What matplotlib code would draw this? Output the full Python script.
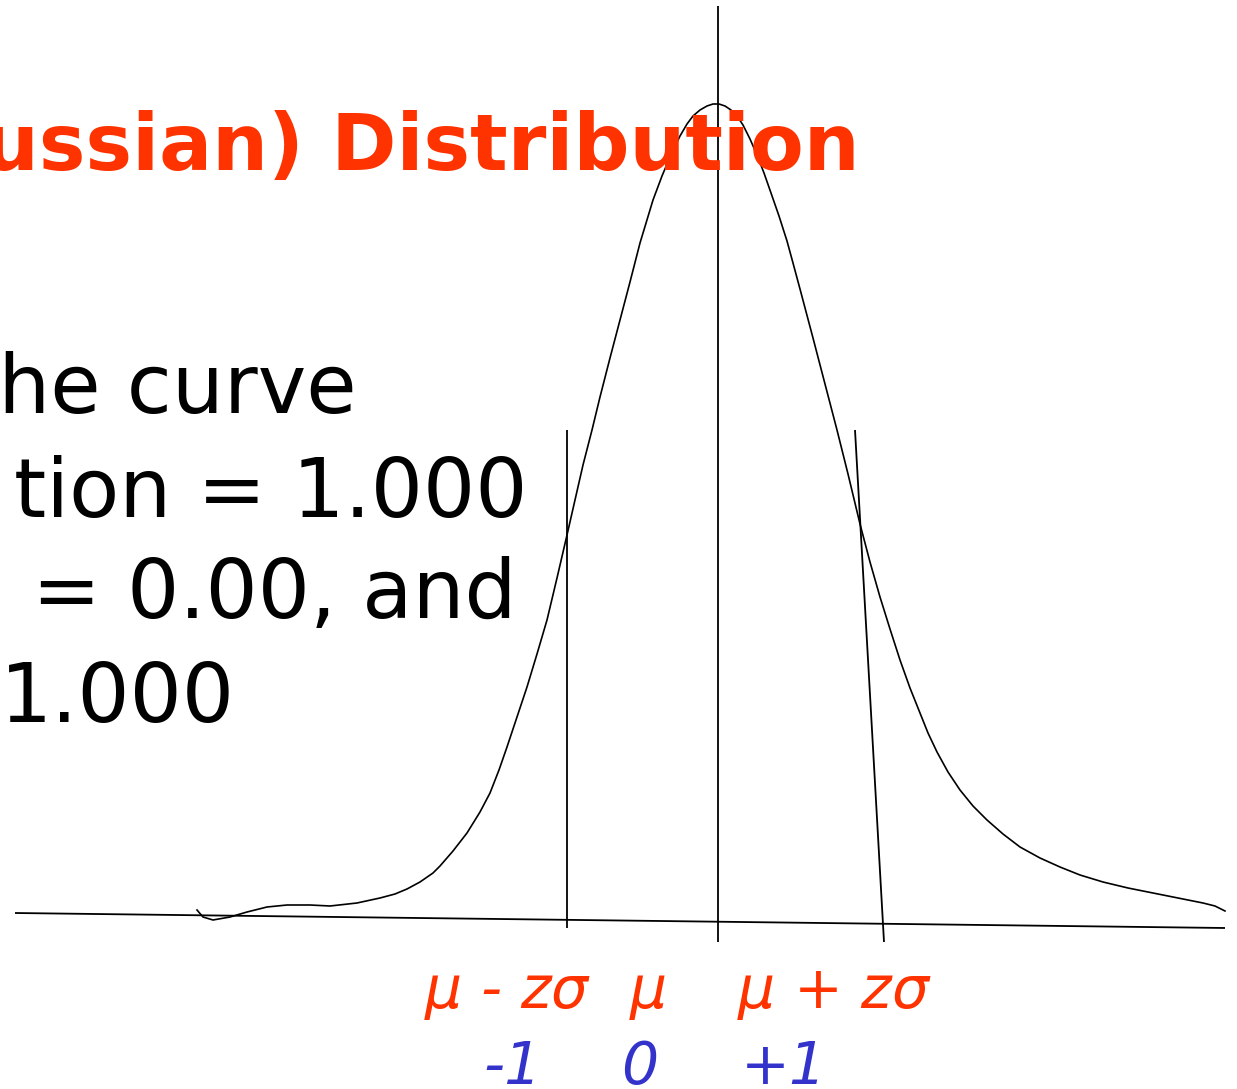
import matplotlib
matplotlib.use("Agg")
import matplotlib.pyplot as plt

# Canvas in pixel units (x to the right, y downwards)
W, H = 1237, 1089

# Hand-drawn bell curve, traced as (x, y) points
curve_x = [197, 203, 213, 230, 247, 267, 287, 310, 330, 357, 380, 395, 407, 420,
           433, 440, 453, 467, 480, 490, 499, 507, 517, 527, 537, 547, 557, 567,
           575, 583, 592, 600, 610, 620, 630, 640, 653, 662, 670, 680, 687, 693,
           700, 707, 713, 719, 725, 731, 737, 743, 750, 757, 764, 771, 779, 787,
           793, 800, 813, 825, 837, 848, 860, 870, 880, 890, 900, 910, 920, 928,
           937, 948, 960, 973, 987, 1003, 1020, 1040, 1060, 1080, 1103, 1128,
           1153, 1178, 1203, 1215, 1225]
curve_y = [910, 917, 920, 917, 912, 907, 905, 905, 906, 903, 898, 894, 889, 882,
           873, 866, 851, 833, 812, 793, 770, 747, 717, 687, 654, 620, 578, 535,
           500, 465, 430, 397, 358, 320, 282, 243, 200, 176, 157, 136, 124, 116,
           110, 106, 104, 104, 106, 110, 116, 125, 139, 155, 173, 193, 216, 241,
           263, 289, 338, 384, 430, 474, 524, 562, 597, 629, 660, 688, 713, 733,
           752, 772, 790, 806, 820, 834, 847, 858, 867, 875, 882, 888,
           893, 898, 903, 906, 911]

# Straight strokes: baseline, mean line, and the two +/- z sigma markers
baseline = ([15, 1225], [913, 928])
mean_line = ([718, 718], [6, 942])
minus_line = ([567, 567], [430, 928])
plus_line = ([855, 884], [430, 942])

title = "ussian) Distribution"
body_lines = ["the curve", "tion = 1.000", " = 0.00, and", "1.000"]
body_right = [357, 527, 517, 235]
body_base = [413, 517, 618, 722]

sym_labels = [r"$\mu$ - z$\sigma$", r"$\mu$", r"$\mu$ + z$\sigma$"]
sym_x = [508, 648, 835]
z_labels = ["-1", "0", "+1"]
z_x = [513, 640, 784]

ORANGE = "#FF3300"
BLUE = "#3333CC"

plt.rcParams["mathtext.fontset"] = "dejavusans"
plt.rcParams["mathtext.default"] = "it"

fig = plt.figure(figsize=(W / 100, H / 100), dpi=100)
ax = fig.add_axes([0, 0, 1, 1])
ax.set_xlim(0, W)
ax.set_ylim(H, 0)
ax.axis("off")

ax.text(860, 170, title, color=ORANGE, fontsize=56.5, fontweight="bold",
        family="DejaVu Sans", ha="right", va="baseline")

for txt, xr, yb in zip(body_lines, body_right, body_base):
    ax.text(xr, yb, txt, color="black", fontsize=59, family="DejaVu Sans",
            ha="right", va="baseline")

for (xs, ys) in (baseline, mean_line, minus_line, plus_line):
    ax.plot(xs, ys, color="black", lw=1.3, solid_capstyle="butt")

ax.plot(curve_x, curve_y, color="black", lw=1.2, solid_joinstyle="round")

for lab, x in zip(sym_labels, sym_x):
    ax.text(x, 1008, lab, color=ORANGE, fontsize=42, style="italic",
            family="DejaVu Sans", ha="center", va="baseline")

for lab, x in zip(z_labels, z_x):
    ax.text(x, 1084, lab, color=BLUE, fontsize=42, style="italic",
            family="DejaVu Sans", ha="center", va="baseline")

fig.savefig("out.png", dpi=100)
